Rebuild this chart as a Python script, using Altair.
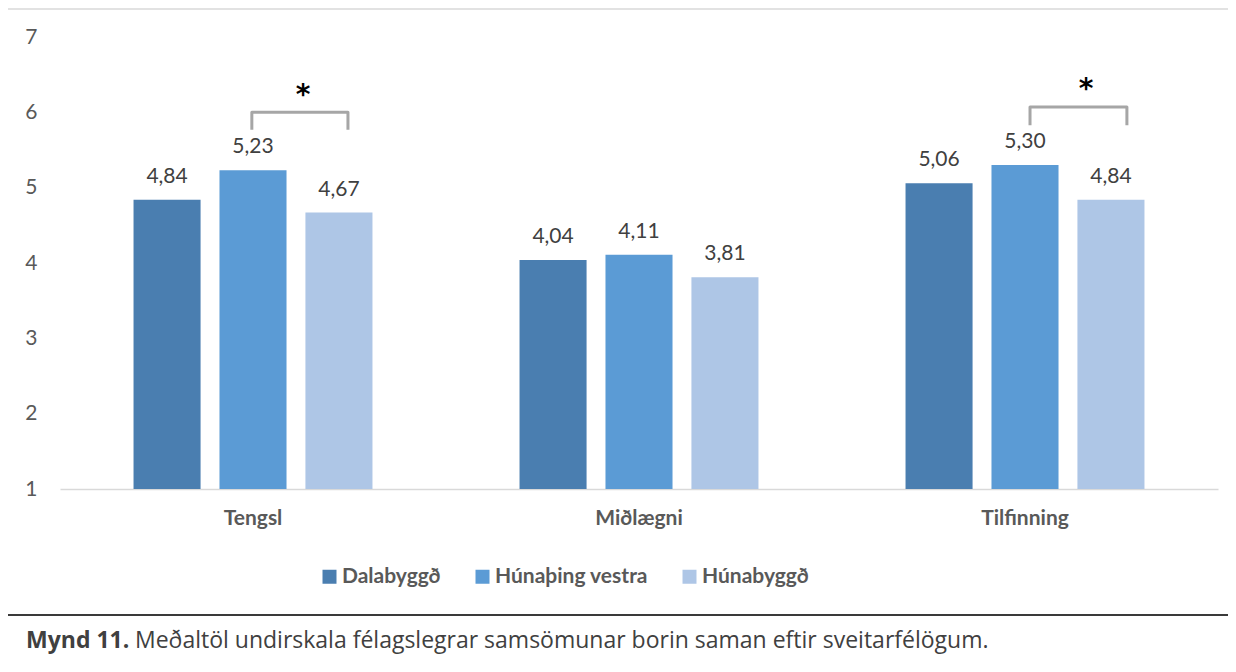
import altair as alt
import pandas as pd

categories = ["Tengsl", "Miðlægni", "Tilfinning"]
series = ["Dalabyggð", "Húnaþing vestra", "Húnabyggð"]
colors = ["#4a7eb0", "#5b9bd5", "#aec6e6"]
dalabyggd = [4.84, 4.04, 5.06]
hunathing_vestra = [5.23, 4.11, 5.30]
hunabyggd = [4.67, 3.81, 4.84]

# significance brackets (x in category-band units, y in scale units)
bracket_group = ["Tengsl", "Tengsl", "Tengsl", "Tengsl",
                 "Tilfinning", "Tilfinning", "Tilfinning", "Tilfinning"]
bracket_order = [0, 1, 2, 3, 0, 1, 2, 3]
bracket_x = [0.497, 0.497, 0.746, 0.746, 2.513, 2.513, 2.764, 2.764]
bracket_y = [5.77, 6.00, 6.00, 5.77, 5.83, 6.07, 6.07, 5.83]
star_x = [0.63, 2.658]
star_y = [6.22, 6.29]

caption_bold = "Mynd 11."
caption_rest = "Meðaltöl undirskala félagslegrar samsömunar borin saman eftir sveitarfélögum."

rows = []
for i, c in enumerate(categories):
    for s, vals in zip(series, [dalabyggd, hunathing_vestra, hunabyggd]):
        rows.append({"category": c, "series": s, "value": vals[i],
                     "label": f"{vals[i]:.2f}".replace(".", ",")})
df = pd.DataFrame(rows)

bdf = pd.DataFrame({"group": bracket_group, "ord": bracket_order,
                    "bx": bracket_x, "by": bracket_y})
sdf = pd.DataFrame({"sx": star_x, "sy": star_y, "t": ["*", "*"]})

xscale = alt.Scale(paddingInner=0.332, paddingOuter=0.166)
xo = alt.XOffset("series:N", sort=series,
                 scale=alt.Scale(paddingInner=0.22, paddingOuter=0.11))
yscale = alt.Scale(domain=[1, 7], nice=False, zero=False)

bars = alt.Chart(df).mark_bar().encode(
    x=alt.X("category:N", sort=categories, scale=xscale,
            axis=alt.Axis(title=None, labelAngle=0, labelFontSize=21,
                          labelFontWeight="bold", labelColor="#595959",
                          labelPadding=18, ticks=False,
                          domainColor="#d9d9d9", domainWidth=1.5)),
    xOffset=xo,
    y=alt.Y("value:Q", scale=yscale,
            axis=alt.Axis(values=[1, 2, 3, 4, 5, 6, 7], title=None, domain=False,
                          ticks=False, grid=False, labelFontSize=21,
                          labelColor="#595959", labelPadding=23, format="d")),
    y2=alt.datum(1),
    color=alt.Color("series:N", sort=series,
                    scale=alt.Scale(domain=series, range=colors),
                    legend=alt.Legend(title=None, orient="none", legendX=259, legendY=529,
                                      direction="horizontal", symbolType="square",
                                      symbolSize=196, symbolStrokeWidth=0,
                                      labelFontSize=21, labelFontWeight="bold",
                                      labelColor="#595959", columnPadding=31,
                                      labelOffset=2, labelLimit=0, padding=0)),
)

labels = alt.Chart(df).mark_text(baseline="alphabetic", dy=-17, fontSize=21,
                                 color="#404040").encode(
    x=alt.X("category:N", sort=categories, scale=xscale),
    xOffset=xo,
    y=alt.Y("value:Q", scale=yscale),
    text="label:N",
)

brackets = alt.Chart(bdf).mark_line(color="#a6a6a6", strokeWidth=3,
                                    strokeJoin="round", strokeCap="butt").encode(
    x=alt.X("bx:Q", scale=alt.Scale(domain=[0, 3], nice=False, zero=False), axis=None),
    y=alt.Y("by:Q", scale=yscale),
    detail="group:N",
    order="ord:Q",
)
stars = alt.Chart(sdf).mark_text(fontSize=28, fontWeight="bold", color="black",
                                 font="DejaVu Sans", baseline="middle").encode(
    x=alt.X("sx:Q", scale=alt.Scale(domain=[0, 3], nice=False, zero=False), axis=None),
    y=alt.Y("sy:Q", scale=yscale),
    text="t:N",
)

one = pd.DataFrame({"a": [0]})
def rule(x, x2, y, y2, color, w):
    return alt.Chart(one).mark_rule(color=color, strokeWidth=w).encode(
        x=alt.value(x), x2=alt.value(x2), y=alt.value(y), y2=alt.value(y2))

frame = [
    rule(-53, 1180, -28, -28, "#d9d9d9", 1.5),
    rule(-53, -53, -28, 578, "#d9d9d9", 1.5),
    rule(-53, 1180, 578, 578, "#3a3a3a", 2),
    rule(-53, -53, 578, 640, "#3a3a3a", 2),
]

cap1 = alt.Chart(one).mark_text(text=caption_bold, fontSize=23, fontWeight="bold",
                                font="Open Sans", color="#404040", align="left",
                                baseline="middle").encode(
    x=alt.value(-34), y=alt.value(604))
cap2 = alt.Chart(one).mark_text(text=caption_rest, fontSize=23, font="Open Sans",
                                color="#404040", align="left", baseline="middle").encode(
    x=alt.value(75), y=alt.value(604))

main = alt.layer(bars, labels)
annot = alt.layer(brackets, stars)

chart = alt.layer(main, annot, *frame, cap1, cap2).resolve_scale(
    x="independent"
).properties(
    width=1158, height=452,
    padding={"left": 52, "top": 29, "right": 10, "bottom": 170},
    autosize=alt.AutoSizeParams(type="none"),
).configure(font="Lato").configure_view(stroke="transparent", strokeWidth=0)

chart.save("out.html", embed_options={"renderer": "svg", "actions": False})
